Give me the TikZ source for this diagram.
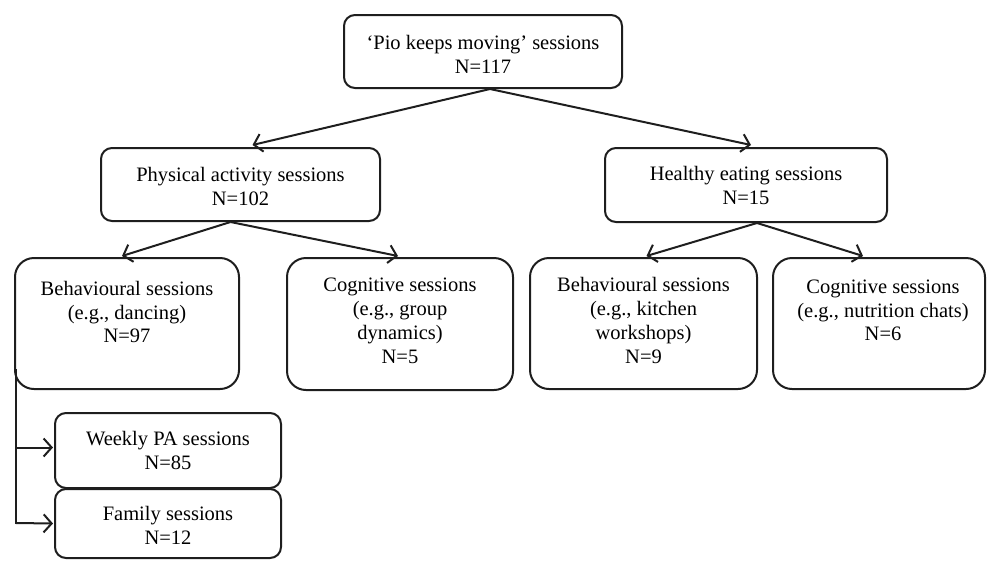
\documentclass[tikz,border=0pt]{standalone}
\usepackage{fontspec}
\setmainfont{Liberation Serif}
\usetikzlibrary{arrows.meta}
\definecolor{ink}{HTML}{1E1E1E}
\tikzset{
  box/.style={draw=ink, line width=2pt, rectangle, inner sep=0pt, outer sep=0pt},
  sbox/.style={box, rounded corners=11pt},
  bbox/.style={box, rounded corners=19pt},
  lbl/.style={align=center, inner sep=0pt, text=black, font=\fontsize{20.5}{23.8}\selectfont},
  arr/.style={draw=ink, line width=2pt, -{Straight Barb[length=8pt,width=18pt,line width=2pt]}},
}
\begin{document}
\begin{tikzpicture}[x=1pt,y=-1pt]
\useasboundingbox (0,0) rectangle (987,560);
% boxes
\node[sbox, minimum width=278pt, minimum height=73pt] (top) at (483,51.5) {};
\node[sbox, minimum width=279pt, minimum height=73pt] (pa) at (240.5,184.5) {};
\node[sbox, minimum width=282pt, minimum height=74pt] (he) at (746,185) {};
\node[bbox, minimum width=224pt, minimum height=131pt] (beh) at (127,323.5) {};
\node[bbox, minimum width=226pt, minimum height=132pt] (cog) at (400,324) {};
\node[bbox, minimum width=227pt, minimum height=131pt] (behe) at (643.5,323.5) {};
\node[bbox, minimum width=212pt, minimum height=131pt] (coge) at (879,323.5) {};
\node[sbox, minimum width=226pt, minimum height=75pt] (weekly) at (168,450.5) {};
\node[sbox, minimum width=226pt, minimum height=69pt] (family) at (168,523.5) {};
% labels
\node[lbl] (ttop) at (483,54) {‘Pio keeps moving’ sessions\\N=117};
\node[lbl] (tpa) at (240.5,186.5) {Physical activity sessions\\N=102};
\node[lbl] (the) at (746,185.5) {Healthy eating sessions\\N=15};
\node[lbl] (tbeh) at (127,312) {Behavioural sessions\\(e.g., dancing)\\N=97};
\node[lbl] (tcog) at (400,321) {Cognitive sessions\\(e.g., group\\dynamics)\\N=5};
\node[lbl] (tbehe) at (643.5,320.5) {Behavioural sessions\\(e.g., kitchen\\workshops)\\N=9};
\node[lbl] (tcoge) at (883,310.5) {Cognitive sessions\\(e.g., nutrition chats)\\N=6};
\node[lbl] (tweekly) at (168,450.5) {Weekly PA sessions\\N=85};
\node[lbl] (tfamily) at (168,525) {Family sessions\\N=12};
% connectors
\draw[arr] ([xshift=7pt,yshift=-1pt]top.south) -- ([xshift=12pt,yshift=3pt]pa.north);
\draw[arr] ([xshift=7pt,yshift=-1pt]top.south) -- ([xshift=5pt,yshift=3pt]he.north);
\draw[arr] ([xshift=-10pt,yshift=-1pt]pa.south) -- ([xshift=-5pt,yshift=2pt]beh.north);
\draw[arr] ([xshift=-10pt,yshift=-1pt]pa.south) -- ([xshift=-2pt,yshift=2pt]cog.north);
\draw[arr] ([xshift=11pt,yshift=-1pt]he.south) -- ([xshift=3pt,yshift=2pt]behe.north);
\draw[arr] ([xshift=11pt,yshift=-1pt]he.south) -- ([xshift=-16pt,yshift=2pt]coge.north);
\coordinate (bend) at ([xshift=1pt,yshift=-134pt]beh.south west);
\draw[draw=ink, line width=2pt] ([xshift=1pt,yshift=20pt]beh.south west) -- ([yshift=-1pt]bend);
\draw[arr] ([yshift=3pt]weekly.west -| bend) -- ([xshift=-2pt,yshift=3pt]weekly.west);
\draw[arr] (bend) -- ([xshift=-2pt]family.west);
\end{tikzpicture}
\end{document}
